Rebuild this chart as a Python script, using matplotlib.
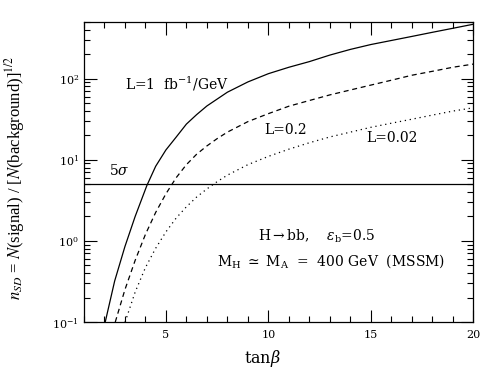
import numpy as np
import matplotlib
matplotlib.use("Agg")
import matplotlib.pyplot as plt
from matplotlib.ticker import MultipleLocator, FixedLocator

plt.rcParams['font.family'] = ['DejaVu Serif']
plt.rcParams['mathtext.fontset'] = 'dejavuserif'

# L = 1 fb^-1/GeV
tanb_l1 = [2.04, 2.5, 3.0, 3.5, 4.07, 4.5, 5.0, 5.5, 6.0, 6.5, 7.0, 8.0, 9.0, 10, 11, 12,
           13, 14, 15, 16, 17, 18, 19, 20]
nsd_l1 = [0.1, 0.32, 0.85, 2.0, 4.8, 8.3, 13.2, 19, 27.5, 36, 46, 68, 91, 115, 138, 162,
          195, 229, 263, 295, 331, 372, 417, 468]

# L = 0.2
tanb_l02 = [2.53, 3.0, 3.5, 4.0, 4.5, 5.0, 5.5, 6.0, 6.5, 7.0, 7.5, 8.0, 9, 10, 11, 12,
            13, 14, 15, 16, 17, 18, 19, 20]
nsd_l02 = [0.1, 0.25, 0.575, 1.2, 2.24, 3.8, 6.0, 8.7, 11.7, 14.8, 18.2, 21.9, 29.5, 37,
           45.7, 53.7, 63, 72.4, 83.2, 95.5, 110, 123, 138, 151]

# L = 0.02
tanb_l002 = [3.01, 3.5, 4.0, 4.5, 5.0, 5.5, 6.0, 6.5, 7.0, 7.5, 8.0, 9, 10, 11, 12, 13,
             14, 15, 16, 17, 18, 19, 20]
nsd_l002 = [0.1, 0.234, 0.468, 0.81, 1.29, 1.91, 2.63, 3.47, 4.37, 5.37, 6.46, 8.7, 11.0,
            13.5, 16.2, 19.1, 21.9, 25.1, 28.2, 31.6, 35.5, 39.8, 43.7]

five_sigma = 5.0

fig = plt.figure(figsize=(4.85, 3.71), dpi=100)
ax = fig.add_axes([0.173, 0.132, 0.803, 0.809])

ax.plot(tanb_l1, nsd_l1, color='black', lw=0.9, ls='-')
ax.plot(tanb_l02, nsd_l02, color='black', lw=0.9, ls=(0, (4, 3)))
ax.plot(tanb_l002, nsd_l002, color='black', lw=0.9, ls=(0, (1, 3)))
ax.axhline(five_sigma, color='black', lw=0.9)

ax.set_yscale('log')
ax.set_xlim(1, 20)
ax.set_ylim(0.1, 500)

ax.xaxis.set_major_locator(FixedLocator([5, 10, 15, 20]))
ax.xaxis.set_minor_locator(MultipleLocator(1))
ax.tick_params(which='both', direction='in', top=True, right=True, width=0.8)
ax.tick_params(which='major', length=9, labelsize=8)
ax.tick_params(which='minor', length=4.5)
ax.tick_params(axis='x', pad=6)
for s in ax.spines.values():
    s.set_linewidth(0.9)

ax.text(3.0, 85, r'L=1  fb$^{-1}$/GeV', fontsize=10, va='center')
ax.text(9.8, 23, 'L=0.2', fontsize=10, va='center')
ax.text(14.8, 18.7, 'L=0.02', fontsize=10, va='center')
ax.text(2.2, 7.3, r'5$\sigma$', fontsize=10, va='center')
ax.text(9.5, 1.15, r'H$\rightarrow$bb,    $\epsilon_{\rm b}$=0.5', fontsize=10, va='center')
ax.text(7.5, 0.56, r'M$_{\rm H}$ $\simeq$ M$_{\rm A}$  =  400 GeV  (MSSM)', fontsize=10,
        va='center')

ax.set_xlabel(r'tan$\beta$', fontsize=11.5)
ax.xaxis.set_label_coords(0.458, -0.085)
ax.set_ylabel(r'$n_{SD}$ = $N$(signal) / [$N$(background)]$^{1/2}$', fontsize=12,
              family='Liberation Serif', math_fontfamily='stix')
ax.yaxis.set_label_coords(-0.145, 0.48)

fig.savefig('out.png', dpi=100)
